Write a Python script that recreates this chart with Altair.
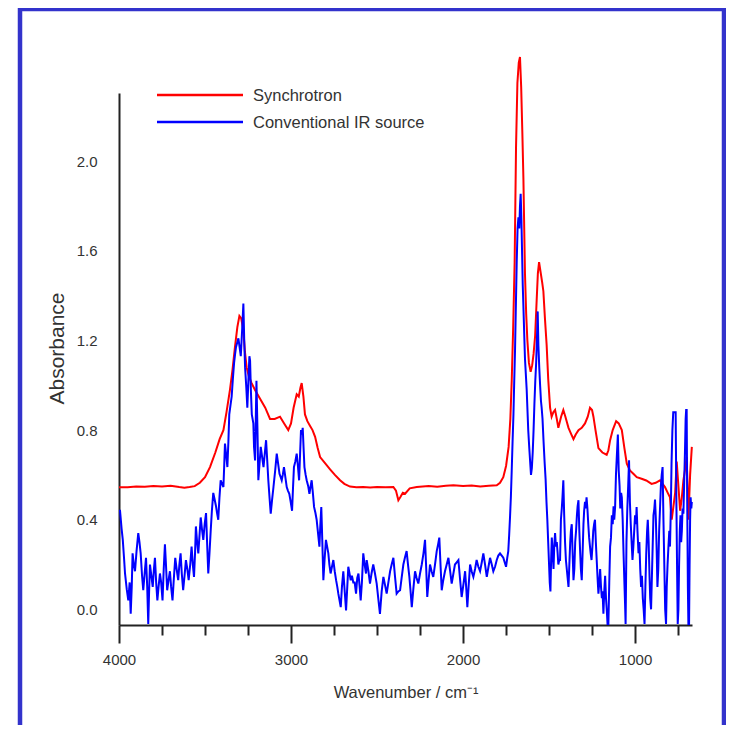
import altair as alt
import pandas as pd

# ---- data (wavenumber cm-1, absorbance) ----
SERIES = ["Synchrotron", "Conventional IR source"]
COLORS = ["#ff0000", "#0000ff"]

RED = [
    (4000, 0.545), (3950, 0.545), (3900, 0.548), (3850, 0.547), (3800, 0.550),
    (3750, 0.548), (3700, 0.552), (3650, 0.546), (3620, 0.543), (3590, 0.546),
    (3560, 0.550), (3530, 0.565), (3500, 0.59), (3471, 0.635), (3440, 0.70),
    (3415, 0.76), (3393, 0.80), (3375, 0.88), (3355, 0.98), (3340, 1.07),
    (3326, 1.17), (3312, 1.26), (3300, 1.31), (3290, 1.30), (3277, 1.245),
    (3268, 1.15), (3258, 1.08), (3245, 1.04), (3229, 1.01), (3210, 0.98),
    (3180, 0.94), (3150, 0.90), (3122, 0.85), (3095, 0.85), (3064, 0.86),
    (3040, 0.83), (3016, 0.80), (3000, 0.83), (2985, 0.90), (2967, 0.96),
    (2955, 0.95), (2945, 0.99), (2938, 1.01), (2928, 0.95), (2919, 0.87),
    (2905, 0.84), (2890, 0.82), (2875, 0.80), (2860, 0.77), (2845, 0.72),
    (2831, 0.68), (2800, 0.65), (2773, 0.625), (2745, 0.60), (2715, 0.576),
    (2690, 0.56), (2657, 0.548), (2620, 0.545), (2581, 0.546), (2540, 0.544),
    (2500, 0.546), (2450, 0.545), (2405, 0.546), (2390, 0.53), (2376, 0.487),
    (2365, 0.50), (2350, 0.52), (2337, 0.516), (2310, 0.54), (2269, 0.546),
    (2200, 0.55), (2150, 0.547), (2100, 0.552), (2056, 0.554), (2000, 0.550),
    (1950, 0.553), (1900, 0.548), (1850, 0.552), (1804, 0.554), (1785, 0.565),
    (1766, 0.59), (1750, 0.64), (1735, 0.725), (1725, 0.85), (1717, 1.02),
    (1709, 1.245), (1700, 1.55), (1692, 2.06), (1684, 2.35), (1676, 2.44),
    (1669, 2.466), (1662, 2.33), (1655, 2.12), (1649, 1.92), (1640, 1.50),
    (1633, 1.32), (1626, 1.20), (1617, 1.10), (1607, 1.06), (1598, 1.09),
    (1590, 1.14), (1581, 1.22), (1572, 1.38), (1565, 1.50), (1558, 1.55),
    (1550, 1.51), (1540, 1.46), (1533, 1.42), (1524, 1.30), (1514, 1.18),
    (1505, 1.03), (1494, 0.90), (1485, 0.86), (1475, 0.88), (1465, 0.89),
    (1455, 0.85), (1446, 0.81), (1430, 0.86), (1417, 0.89), (1405, 0.86),
    (1387, 0.81), (1370, 0.78), (1358, 0.76), (1345, 0.78), (1329, 0.80),
    (1310, 0.81), (1291, 0.83), (1275, 0.86), (1262, 0.90), (1250, 0.89),
    (1242, 0.86), (1230, 0.80), (1213, 0.72), (1190, 0.70), (1165, 0.69),
    (1155, 0.71), (1145, 0.755), (1130, 0.80), (1110, 0.84), (1095, 0.83),
    (1077, 0.80), (1062, 0.72), (1048, 0.65), (1030, 0.62), (1010, 0.605),
    (990, 0.59), (962, 0.583), (935, 0.575), (904, 0.56), (880, 0.565),
    (855, 0.576), (840, 0.56), (826, 0.546), (810, 0.52), (797, 0.50),
    (787, 0.40), (777, 0.46), (767, 0.52), (758, 0.66), (748, 0.55),
    (738, 0.44), (728, 0.50), (719, 0.576), (710, 0.62), (700, 0.68),
    (695, 0.55), (690, 0.40), (680, 0.60), (670, 0.725),
]

BLUE = [
    (4000, 0.44), (3994, 0.44), (3985, 0.36), (3978, 0.31), (3970, 0.22),
    (3965, 0.16), (3955, 0.09), (3946, 0.04), (3938, 0.12), (3932, -0.02),
    (3926, 0.10), (3921, 0.25), (3914, 0.20), (3907, 0.17), (3898, 0.26),
    (3888, 0.34), (3881, 0.30), (3874, 0.25), (3866, 0.15), (3859, 0.085),
    (3851, 0.16), (3843, 0.23), (3836, 0.10), (3830, -0.065), (3825, 0.08),
    (3820, 0.20), (3812, 0.15), (3804, 0.10), (3797, 0.18), (3791, 0.23),
    (3784, 0.12), (3777, 0.04), (3770, 0.10), (3762, 0.16), (3755, 0.12),
    (3747, 0.04), (3740, 0.18), (3733, 0.29), (3727, 0.20), (3720, 0.085),
    (3712, 0.13), (3704, 0.17), (3697, 0.10), (3689, 0.04), (3681, 0.14),
    (3673, 0.23), (3665, 0.18), (3656, 0.13), (3649, 0.20), (3642, 0.25),
    (3635, 0.16), (3627, 0.085), (3619, 0.15), (3611, 0.22), (3603, 0.18),
    (3595, 0.13), (3586, 0.20), (3578, 0.28), (3571, 0.20), (3564, 0.145),
    (3558, 0.25), (3553, 0.37), (3546, 0.30), (3539, 0.25), (3532, 0.33),
    (3525, 0.41), (3518, 0.36), (3510, 0.31), (3502, 0.38), (3494, 0.43),
    (3488, 0.30), (3481, 0.16), (3474, 0.25), (3467, 0.35), (3460, 0.44),
    (3452, 0.52), (3444, 0.49), (3436, 0.46), (3430, 0.43), (3423, 0.40),
    (3416, 0.50), (3409, 0.576), (3401, 0.56), (3393, 0.546), (3388, 0.65),
    (3384, 0.74), (3377, 0.69), (3370, 0.635), (3364, 0.75), (3359, 0.87),
    (3352, 0.91), (3345, 0.95), (3338, 1.03), (3331, 1.10), (3325, 1.14),
    (3320, 1.17), (3313, 1.19), (3306, 1.21), (3299, 1.17), (3292, 1.13),
    (3284, 1.25), (3277, 1.365), (3272, 1.20), (3267, 1.08), (3260, 0.99),
    (3254, 0.90), (3248, 1.02), (3242, 1.13), (3238, 1.11), (3233, 0.97),
    (3228, 0.87), (3219, 0.83), (3215, 0.725), (3209, 0.665), (3201, 1.02),
    (3195, 0.80), (3190, 0.576), (3183, 0.65), (3176, 0.725), (3168, 0.68),
    (3160, 0.635), (3152, 0.70), (3145, 0.755), (3138, 0.66), (3132, 0.576),
    (3125, 0.50), (3118, 0.427), (3110, 0.49), (3102, 0.546), (3092, 0.62),
    (3083, 0.695), (3075, 0.65), (3067, 0.605), (3060, 0.59), (3054, 0.576),
    (3048, 0.60), (3041, 0.635), (3033, 0.59), (3025, 0.546), (3018, 0.53),
    (3010, 0.516), (3002, 0.48), (2994, 0.44), (2988, 0.55), (2983, 0.635),
    (2975, 0.66), (2967, 0.695), (2960, 0.64), (2953, 0.576), (2947, 0.70),
    (2942, 0.80), (2937, 0.78), (2932, 0.81), (2927, 0.72), (2922, 0.635),
    (2915, 0.60), (2909, 0.576), (2900, 0.55), (2893, 0.516), (2886, 0.55),
    (2880, 0.576), (2873, 0.52), (2866, 0.457), (2858, 0.43), (2851, 0.40),
    (2843, 0.34), (2835, 0.28), (2830, 0.37), (2824, 0.457), (2818, 0.30),
    (2812, 0.13), (2805, 0.22), (2797, 0.31), (2790, 0.28), (2783, 0.25),
    (2777, 0.20), (2770, 0.16), (2762, 0.19), (2754, 0.22), (2746, 0.17),
    (2738, 0.13), (2731, 0.10), (2725, 0.07), (2718, 0.04), (2711, 0.01),
    (2704, 0.10), (2696, 0.17), (2688, 0.08), (2680, -0.005), (2673, 0.10),
    (2667, 0.19), (2660, 0.16), (2653, 0.13), (2646, 0.15), (2638, 0.12),
    (2630, 0.12), (2622, 0.07), (2615, 0.14), (2608, 0.16), (2601, 0.10),
    (2595, 0.04), (2588, 0.12), (2580, 0.25), (2572, 0.20), (2564, 0.16),
    (2560, 0.22), (2550, 0.17), (2541, 0.115), (2532, 0.16), (2522, 0.20),
    (2512, 0.16), (2502, 0.115), (2493, 0.05), (2483, -0.02), (2473, 0.08),
    (2463, 0.145), (2454, 0.11), (2444, 0.07), (2434, 0.12), (2424, 0.17),
    (2415, 0.20), (2405, 0.23), (2396, 0.15), (2386, 0.07), (2376, 0.08),
    (2366, 0.085), (2357, 0.14), (2347, 0.20), (2338, 0.23), (2328, 0.26),
    (2320, 0.20), (2312, 0.145), (2305, 0.08), (2298, 0.01), (2289, 0.09),
    (2279, 0.17), (2270, 0.14), (2260, 0.115), (2250, 0.16), (2240, 0.20),
    (2230, 0.25), (2221, 0.31), (2214, 0.18), (2208, 0.055), (2200, 0.13),
    (2192, 0.20), (2183, 0.17), (2173, 0.145), (2163, 0.20), (2153, 0.26),
    (2145, 0.29), (2138, 0.32), (2131, 0.20), (2124, 0.085), (2115, 0.13),
    (2105, 0.17), (2095, 0.20), (2085, 0.23), (2075, 0.17), (2066, 0.115),
    (2056, 0.16), (2047, 0.20), (2037, 0.21), (2027, 0.22), (2018, 0.14),
    (2008, 0.055), (1998, 0.11), (1988, 0.17), (1981, 0.09), (1975, 0.01),
    (1967, 0.11), (1959, 0.20), (1950, 0.17), (1940, 0.145), (1930, 0.18),
    (1921, 0.22), (1911, 0.19), (1901, 0.17), (1891, 0.21), (1882, 0.25),
    (1872, 0.20), (1862, 0.145), (1852, 0.19), (1843, 0.23), (1833, 0.20),
    (1824, 0.17), (1814, 0.19), (1804, 0.22), (1795, 0.24), (1785, 0.25),
    (1775, 0.24), (1766, 0.23), (1758, 0.21), (1750, 0.19), (1743, 0.23),
    (1737, 0.26), (1732, 0.33), (1727, 0.41), (1722, 0.50), (1717, 0.62),
    (1712, 0.75), (1707, 0.87), (1703, 1.00), (1698, 1.15), (1693, 1.35),
    (1688, 1.55), (1683, 1.70), (1678, 1.75), (1673, 1.70), (1669, 1.80),
    (1665, 1.855), (1661, 1.75), (1657, 1.60), (1653, 1.45), (1649, 1.35),
    (1644, 1.22), (1640, 1.12), (1635, 1.05), (1630, 0.98), (1625, 0.88),
    (1621, 0.80), (1615, 0.72), (1610, 0.66), (1605, 0.60), (1600, 0.63),
    (1595, 0.70), (1590, 0.80), (1585, 0.92), (1580, 1.02), (1575, 1.10),
    (1570, 1.22), (1566, 1.33), (1562, 1.18), (1557, 1.08), (1552, 1.00),
    (1547, 0.93), (1543, 0.90), (1538, 0.85), (1532, 0.75), (1526, 0.66),
    (1520, 0.58), (1515, 0.48), (1510, 0.40), (1505, 0.30), (1500, 0.20),
    (1496, 0.12), (1492, 0.08), (1488, 0.22), (1484, 0.32), (1479, 0.25),
    (1474, 0.18), (1470, 0.28), (1465, 0.34), (1460, 0.28), (1455, 0.30),
    (1450, 0.25), (1446, 0.20), (1441, 0.22), (1436, 0.22), (1431, 0.40),
    (1426, 0.45), (1422, 0.50), (1417, 0.576), (1412, 0.42), (1407, 0.30),
    (1402, 0.22), (1397, 0.18), (1392, 0.14), (1387, 0.10), (1382, 0.20),
    (1377, 0.30), (1373, 0.35), (1368, 0.38), (1363, 0.25), (1358, 0.13),
    (1353, 0.18), (1348, 0.30), (1343, 0.35), (1338, 0.42), (1334, 0.46),
    (1329, 0.487), (1324, 0.35), (1319, 0.25), (1315, 0.18), (1310, 0.13),
    (1305, 0.25), (1300, 0.38), (1296, 0.44), (1291, 0.48), (1287, 0.45),
    (1282, 0.50), (1277, 0.45), (1272, 0.38), (1267, 0.32), (1262, 0.28),
    (1258, 0.25), (1253, 0.22), (1248, 0.28), (1243, 0.35), (1238, 0.38),
    (1233, 0.40), (1228, 0.30), (1223, 0.22), (1218, 0.14), (1213, 0.07),
    (1208, 0.12), (1203, 0.18), (1198, 0.10), (1193, 0.05), (1189, 0.08),
    (1184, -0.02), (1179, 0.08), (1174, 0.15), (1169, 0.05), (1164, -0.01),
    (1160, -0.065), (1155, -0.065), (1150, 0.12), (1145, 0.28), (1140, 0.32),
    (1135, 0.42), (1130, 0.38), (1125, 0.46), (1121, 0.40), (1116, 0.457),
    (1111, 0.60), (1105, 0.70), (1100, 0.78), (1095, 0.62), (1090, 0.55),
    (1086, 0.45), (1081, 0.52), (1077, 0.50), (1072, 0.40), (1067, 0.25),
    (1062, 0.12), (1058, 0.02), (1055, -0.065), (1050, 0.30), (1045, 0.45),
    (1040, 0.55), (1035, 0.665), (1030, 0.48), (1025, 0.38), (1020, 0.30),
    (1015, 0.22), (1010, 0.28), (1005, 0.35), (1000, 0.42), (995, 0.38),
    (991, 0.457), (986, 0.35), (980, 0.25), (975, 0.30), (970, 0.18),
    (965, 0.10), (960, 0.15), (955, 0.05), (950, 0.0), (945, -0.065),
    (940, 0.10), (935, 0.25), (930, 0.35), (926, 0.40), (921, 0.30),
    (916, 0.15), (912, 0.05), (907, 0.0), (902, 0.15), (897, 0.30),
    (893, 0.42), (888, 0.45), (884, 0.49), (879, 0.40), (874, 0.25),
    (870, 0.10), (865, 0.18), (860, 0.35), (855, 0.45), (850, 0.55),
    (845, 0.60), (840, 0.635), (835, 0.40), (830, 0.20), (825, 0.0),
    (820, -0.065), (816, 0.10), (811, 0.20), (806, 0.28), (801, 0.35),
    (797, 0.28), (792, 0.45), (788, 0.65), (783, 0.80), (778, 0.88),
    (773, 0.88), (768, 0.88), (764, 0.88), (760, 0.50), (756, 0.20),
    (752, -0.065), (748, 0.0), (744, 0.20), (740, 0.35), (736, 0.42),
    (732, 0.30), (728, 0.35), (724, 0.45), (719, 0.427), (715, 0.55),
    (710, 0.70), (706, 0.85), (703, 0.89), (700, 0.89), (697, 0.50),
    (693, 0.10), (690, -0.065), (686, -0.065), (683, 0.20), (680, 0.40),
    (677, 0.50), (673, 0.45), (670, 0.48),
]

X_MAJOR = [4000, 3000, 2000, 1000]
X_MINOR = [3750, 3500, 3250, 2750, 2500, 2250, 1750, 1500, 1250, 750]
Y_TICKS = [0.0, 0.4, 0.8, 1.2, 1.6, 2.0]
X_DOMAIN = [4000, 669]
Y_DOMAIN = [-0.07, 2.305]

FONT = "Liberation Sans, Arial, sans-serif"
TXT = "#333333"
AX = "#222222"

red_df = pd.DataFrame(RED, columns=["wn", "A"])
blue_df = pd.DataFrame(BLUE, columns=["wn", "A"])
one = pd.DataFrame({"k": [0]})

xs = alt.Scale(domain=X_DOMAIN, nice=False, zero=False)
ys = alt.Scale(domain=Y_DOMAIN, nice=False, zero=False)

major_axis = alt.Axis(
    orient="bottom", values=X_MAJOR, format="d", tickSize=18, tickWidth=2,
    tickColor=AX, domainColor=AX, domainWidth=2, grid=False, labelFlush=False,
    labelFont=FONT, labelFontSize=15, labelColor=TXT, labelPadding=9,
    title="Wavenumber / cm⁻¹", titleFont=FONT, titleFontSize=16.5,
    titleFontWeight="normal", titleColor=TXT, titleY=67, titleBaseline="middle",
)
minor_axis = alt.Axis(
    orient="bottom", values=X_MINOR, tickSize=10, tickWidth=2, tickColor=AX,
    domain=False, labels=False, grid=False, title=None,
)
y_axis = alt.Axis(
    values=Y_TICKS, format=".1f", ticks=False, grid=False,
    domainColor=AX, domainWidth=2, labelFont=FONT, labelFontSize=15,
    labelColor=TXT, labelPadding=22,
    title="Absorbance", titleFont=FONT, titleFontSize=21,
    titleFontWeight="normal", titleColor=TXT, titleX=-62, titleY=255,
    titleBaseline="middle",
)

red = alt.Chart(red_df).mark_line(color=COLORS[0], strokeWidth=2).encode(
    x=alt.X("wn:Q", scale=xs, axis=major_axis),
    y=alt.Y("A:Q", scale=ys, axis=y_axis),
    order="wn:Q",
)
blue = alt.Chart(blue_df).mark_line(color=COLORS[1], strokeWidth=2).encode(
    x=alt.X("wn:Q", scale=xs, axis=minor_axis),
    y=alt.Y("A:Q", scale=ys, axis=None),
    order="wn:Q",
)

# legend (drawn by hand, as in the original figure)
leg = []
for i, (name, col) in enumerate(zip(SERIES, COLORS)):
    yy = 2 + 27 * i
    leg.append(alt.Chart(one).mark_rule(color=col, strokeWidth=2.5).encode(
        x=alt.value(38), x2=alt.value(124), y=alt.value(yy)))
    leg.append(alt.Chart(one).mark_text(
        align="left", baseline="middle", font=FONT, fontSize=16.5, color=TXT
    ).encode(x=alt.value(134), y=alt.value(yy + 1), text=alt.value(name)))

frame = alt.Chart(one).mark_rect(filled=False, stroke="#3333cc", strokeWidth=4.5).encode(
    x=alt.value(-99), x2=alt.value(605), y=alt.value(-84), y2=alt.value(720)
)

chart = alt.layer(frame, red, blue, *leg).resolve_axis(
    x="independent", y="independent"
).properties(
    width=573, height=532,
    padding={"left": 111, "top": 85, "right": 34, "bottom": 100},
    autosize=alt.AutoSizeParams(type="none"),
    background="white",
).configure_view(stroke=None)

chart.save("out.html", embed_options={"renderer": "svg", "actions": False})
